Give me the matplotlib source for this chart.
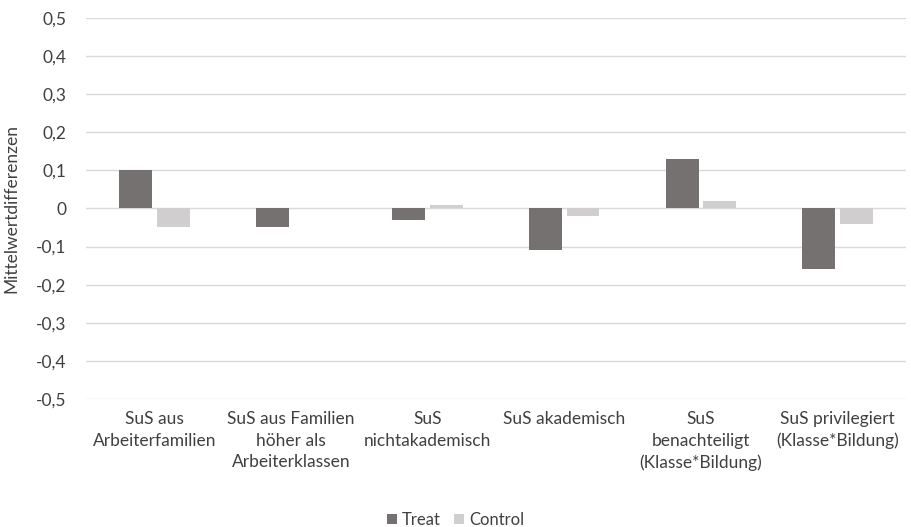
import matplotlib.pyplot as plt
import numpy as np

plt.rcParams['font.family'] = ['Lato', 'DejaVu Sans']

# Data
categories = ['SuS aus\nArbeiterfamilien',
              'SuS aus Familien\nhöher als\nArbeiterklassen',
              'SuS\nnichtakademisch',
              'SuS akademisch',
              'SuS\nbenachteiligt\n(Klasse*Bildung)',
              'SuS privilegiert\n(Klasse*Bildung)']
treat = [0.10, -0.05, -0.03, -0.11, 0.13, -0.16]
control = [-0.05, 0.0, 0.01, -0.02, 0.02, -0.04]
yticks = [-0.5, -0.4, -0.3, -0.2, -0.1, 0, 0.1, 0.2, 0.3, 0.4, 0.5]

fig = plt.figure(figsize=(9.11, 5.27), dpi=100)
ax = fig.add_axes([0.0944, 0.243, 0.900, 0.723])

x = np.arange(len(categories))
w = 0.24
gap = 0.035
ax.bar(x - w / 2 - gap / 2, treat, w, color='#767171', label='Treat', zorder=3)
ax.bar(x + w / 2 + gap / 2, control, w, color='#d0cece', label='Control', zorder=3)

ax.set_xlim(-0.5, len(categories) - 0.5)
ax.set_ylim(-0.5, 0.5)
ax.set_yticks(yticks)
ax.set_yticklabels([('%.1f' % v).replace('.', ',') if v != 0 else '0' for v in yticks],
                   fontsize=12.5, color='#404040')
ax.set_xticks(x)
ax.set_xticklabels(categories, fontsize=12.5, color='#404040', linespacing=1.4)
ax.tick_params(axis='both', length=0)
ax.tick_params(axis='x', pad=9)
ax.tick_params(axis='y', pad=14)
ax.grid(axis='y', color='#d9d9d9', linewidth=1, zorder=0)
for s in ax.spines.values():
    s.set_visible(False)

ax.set_ylabel('Mittelwertdifferenzen', fontsize=12.5, color='#404040', labelpad=12)

fig.legend(loc='lower center', bbox_to_anchor=(0.5, -0.03), ncol=2, frameon=False,
           fontsize=12, handlelength=0.6, handleheight=0.6, handletextpad=0.3,
           columnspacing=0.8, labelcolor='#404040')

fig.savefig('out.png', dpi=100)
